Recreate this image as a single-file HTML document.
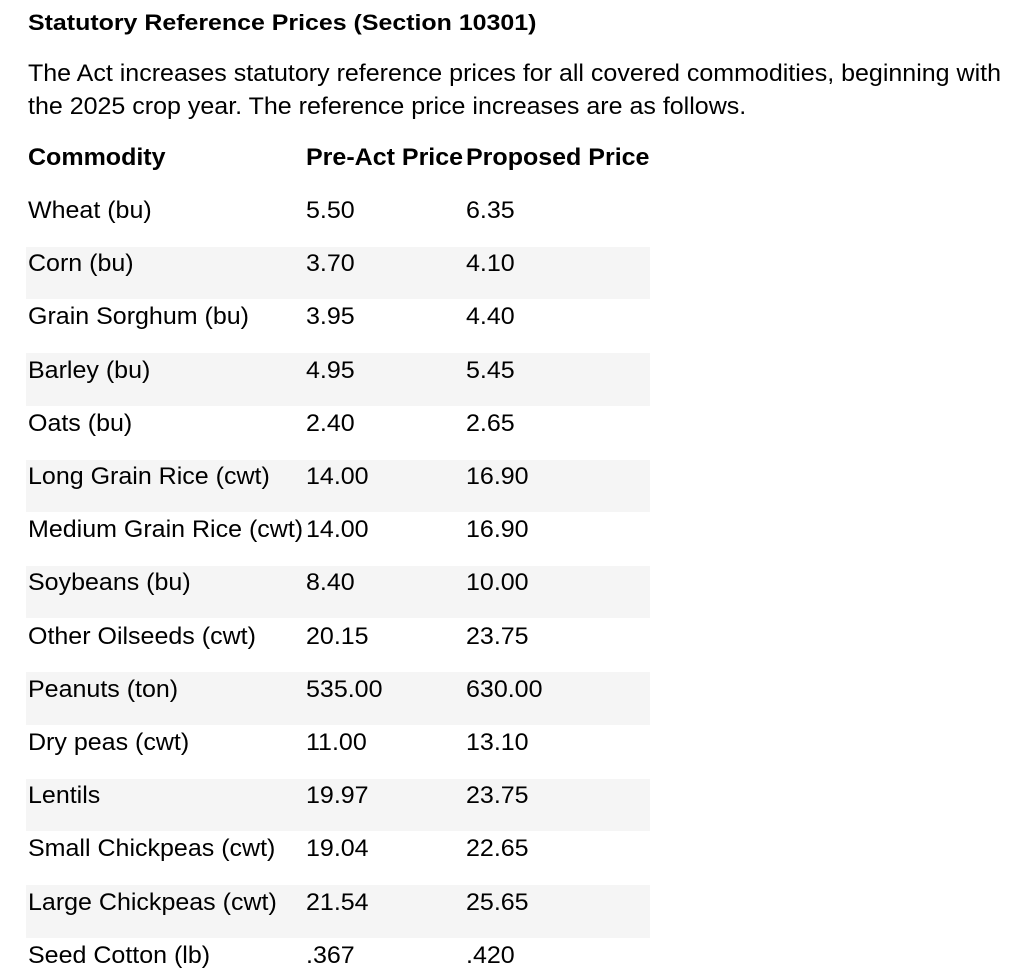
<!DOCTYPE html>
<html><head><meta charset="utf-8"><style>
body{margin:0;width:1019px;height:976px;background:#fff;font-family:"Liberation Sans",Arial,sans-serif;color:#000;position:relative;overflow:hidden}
.a{position:absolute;white-space:nowrap;line-height:1;transform-origin:0 0;transform:scaleX(1.042)}
.t{font-size:22px;font-weight:bold;left:28px;top:12px;transform:scaleX(1.133)}
.p{font-size:24px;left:28px}
.h{font-size:24px;font-weight:bold}
.r{font-size:24px}
.s{position:absolute;left:26px;width:624px;height:52.5px;background:#f5f5f5}
</style></head><body>
<div class="a t">Statutory Reference Prices (Section 10301)</div>
<div class="a p" style="top:62px">The Act increases statutory reference prices for all covered commodities, beginning with</div>
<div class="a p" style="top:95px">the 2025 crop year. The reference price increases are as follows.</div>
<div class="a h" style="left:28px;top:146px">Commodity</div>
<div class="a h" style="left:306px;top:146px">Pre-Act Price</div>
<div class="a h" style="left:466px;top:146px">Proposed Price</div>
<div id="rows"></div>
<script>
var d=[["Wheat (bu)","5.50","6.35"],["Corn (bu)","3.70","4.10"],["Grain Sorghum (bu)","3.95","4.40"],["Barley (bu)","4.95","5.45"],["Oats (bu)","2.40","2.65"],["Long Grain Rice (cwt)","14.00","16.90"],["Medium Grain Rice (cwt)","14.00","16.90"],["Soybeans (bu)","8.40","10.00"],["Other Oilseeds (cwt)","20.15","23.75"],["Peanuts (ton)","535.00","630.00"],["Dry peas (cwt)","11.00","13.10"],["Lentils","19.97","23.75"],["Small Chickpeas (cwt)","19.04","22.65"],["Large Chickpeas (cwt)","21.54","25.65"],["Seed Cotton (lb)",".367",".420"]];
var h="";
for(var i=0;i<d.length;i++){var c=210+53.2*i;
if(i%2==1)h+='<div class="s" style="top:'+(c-16.5)+'px"></div>';
var t=c-11;
h+='<div class="a r" style="left:28px;top:'+t+'px">'+d[i][0]+'</div>';
h+='<div class="a r" style="left:306px;top:'+t+'px">'+d[i][1]+'</div>';
h+='<div class="a r" style="left:466px;top:'+t+'px">'+d[i][2]+'</div>';}
document.getElementById("rows").innerHTML=h;
</script>
</body></html>
